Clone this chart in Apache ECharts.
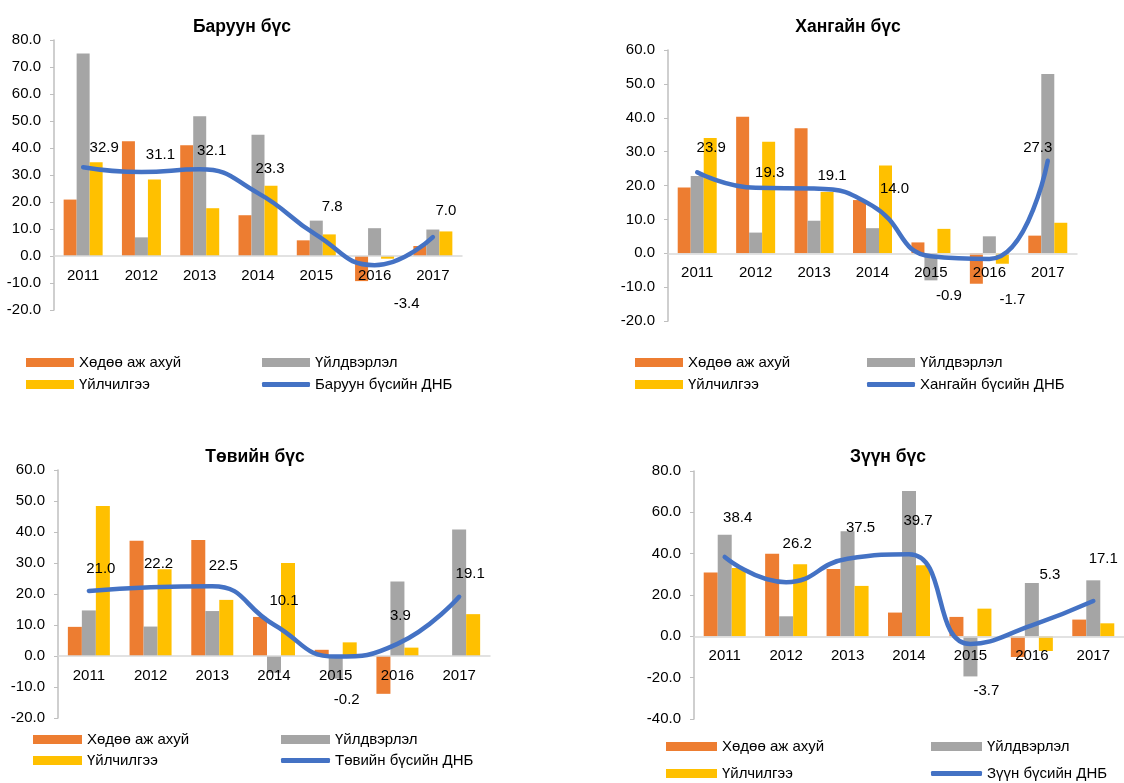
<!DOCTYPE html>
<html>
<head>
<meta charset="utf-8">
<script src="https://cdn.jsdelivr.net/npm/echarts@6/dist/echarts.min.js"></script>
<style>
html,body{margin:0;padding:0;background:#fff;}
#chart{width:1124px;height:783px;}
</style>
</head>
<body>
<div id="chart"></div>
<script>
// ---- Data ----
const years = ['2011', '2012', '2013', '2014', '2015', '2016', '2017'];
const seriesNames = ['Хөдөө аж ахуй', 'Үйлдвэрлэл', 'Үйлчилгээ'];

const westTitle = 'Баруун бүс';
const westGdpName = 'Баруун бүсийн ДНБ';
const westAgri = [20.9, 42.5, 41.0, 15.1, 5.8, -9.3, 3.7];
const westInd = [75.0, 6.9, 51.8, 44.9, 13.1, 10.3, 9.8];
const westServ = [34.7, 28.3, 17.7, 26.0, 8.0, -1.0, 9.1];
const westGdp = [32.9, 31.1, 32.1, 23.3, 7.8, -3.4, 7.0];

const khangaiTitle = 'Хангайн бүс';
const khangaiGdpName = 'Хангайн бүсийн ДНБ';
const khangaiAgri = [19.4, 40.3, 36.9, 15.7, 3.2, -9.0, 5.2];
const khangaiInd = [22.8, 6.1, 9.6, 7.4, -8.0, 5.0, 52.9];
const khangaiServ = [34.0, 32.9, 18.1, 25.9, 7.2, -3.1, 9.0];
const khangaiGdp = [23.9, 19.3, 19.1, 14.0, -0.9, -1.7, 27.3];

const centralTitle = 'Төвийн бүс';
const centralGdpName = 'Төвийн бүсийн ДНБ';
const centralAgri = [9.4, 37.2, 37.4, 12.6, 2.0, -12.2, 0];
const centralInd = [14.7, 9.5, 14.5, -5.4, -7.3, 24.0, 40.8];
const centralServ = [48.4, 28.0, 18.1, 30.0, 4.4, 2.7, 13.5];
const centralGdp = [21.0, 22.2, 22.5, 10.1, -0.2, 3.9, 19.1];

const eastTitle = 'Зүүн бүс';
const eastGdpName = 'Зүүн бүсийн ДНБ';
const eastAgri = [30.9, 39.9, 32.6, 11.5, 9.4, -10.0, 8.1];
const eastInd = [49.1, 9.7, 50.9, 70.3, -19.4, 25.8, 27.1];
const eastServ = [33.1, 34.9, 24.4, 34.4, 13.4, -7.1, 6.3];
const eastGdp = [38.4, 26.2, 37.5, 39.7, -3.7, 5.3, 17.1];

// ---- Layout / style (not data) ----
const colors = ['#ED7D31', '#A5A5A5', '#FFC000', '#4472C4'];
const FONT = 'Liberation Sans, Arial, sans-serif';

const panels = [
  { title: westTitle, gdpName: westGdpName, bars: [westAgri, westInd, westServ], gdp: westGdp,
    grid: { left: 54, top: 40, width: 408, height: 270 }, yMin: -20, yMax: 80, yInt: 10, barW: 13,
    titlePos: { x: 237, y: 22 },
    legend: { c1: 26, c2: 262, r1: 364, r2: 386, w: 48 },
    offsets: [[21,-19],[19,-17],[12,-18],[12,-24],[16,-28],[32,39],[13,-26]] },
  { title: khangaiTitle, gdpName: khangaiGdpName, bars: [khangaiAgri, khangaiInd, khangaiServ], gdp: khangaiGdp,
    grid: { left: 668, top: 50, width: 409, height: 271 }, yMin: -20, yMax: 60, yInt: 10, barW: 13,
    titlePos: { x: 843, y: 22 },
    legend: { c1: 635, c2: 867, r1: 364, r2: 386, w: 48 },
    offsets: [[14,-24],[14,-15],[18,-13],[22,-17],[18,40],[23,41],[-10,-13]] },
  { title: centralTitle, gdpName: centralGdpName, bars: [centralAgri, centralInd, centralServ], gdp: centralGdp,
    grid: { left: 58, top: 470, width: 432, height: 248 }, yMin: -20, yMax: 60, yInt: 10, barW: 14,
    titlePos: { x: 250, y: 452 },
    legend: { c1: 33, c2: 281, r1: 741, r2: 762, w: 49 },
    offsets: [[12,-22],[8,-23],[11,-20],[10,-24],[11,43],[3,-28],[11,-23]] },
  { title: eastTitle, gdpName: eastGdpName, bars: [eastAgri, eastInd, eastServ], gdp: eastGdp,
    grid: { left: 694, top: 471, width: 434, height: 248 }, yMin: -40, yMax: 80, yInt: 20, barW: 14,
    titlePos: { x: 883, y: 452 },
    legend: { c1: 666, c2: 931, r1: 748, r2: 775, w: 51 },
    offsets: [[13,-39],[11,-38],[13,-31],[9,-33],[16,47],[18,-51],[10,-42]] }
];

const option = {
  animation: false,
  backgroundColor: '#fff',
  textStyle: { fontFamily: FONT },
  title: [], grid: [], xAxis: [], yAxis: [], legend: [], series: []
};

panels.forEach((p, i) => {
  option.title.push({
    text: p.title, left: p.titlePos.x, top: p.titlePos.y, textAlign: 'center', textVerticalAlign: 'middle',
    textStyle: { fontFamily: FONT, fontSize: 17.5, fontWeight: 'bold', color: '#000' }
  });
  option.grid.push(Object.assign({ containLabel: false }, p.grid));
  // place the category axis (line + labels) on the zero value
  const zeroShift = p.grid.height * (0 - p.yMin) / (p.yMax - p.yMin);
  option.xAxis.push({
    type: 'category', gridIndex: i, data: years, position: 'bottom', offset: -zeroShift, z: 10,
    axisLine: { onZero: false, lineStyle: { color: '#d9d9d9', width: 1.5 } },
    axisTick: { show: false },
    axisLabel: { color: '#000', fontSize: 15, fontFamily: FONT, margin: 12 },
    splitLine: { show: false }
  });
  option.yAxis.push({
    type: 'value', gridIndex: i, min: p.yMin, max: p.yMax, interval: p.yInt,
    axisLine: { show: true, lineStyle: { color: '#bfbfbf', width: 1.5 } },
    axisTick: { show: true, length: 4, lineStyle: { color: '#bfbfbf' } },
    axisLabel: { color: '#000', fontSize: 15, fontFamily: FONT, margin: 13,
      formatter: v => v.toFixed(1) },
    splitLine: { show: false }
  });
  p.bars.forEach((arr, k) => {
    option.series.push({
      type: 'bar', name: seriesNames[k], xAxisIndex: i, yAxisIndex: i, data: arr,
      barWidth: p.barW, barGap: '0%', itemStyle: { color: colors[k] }, z: 2
    });
  });
  option.series.push({
    type: 'line', name: p.gdpName, xAxisIndex: i, yAxisIndex: i, smooth: 0.5,
    symbol: 'circle', symbolSize: 1, itemStyle: { color: colors[3] },
    lineStyle: { color: colors[3], width: 4.5, cap: 'round' },
    data: p.gdp.map((v, j) => ({
      value: v,
      label: { show: true, position: 'inside', offset: p.offsets[j],
        formatter: d => d.value.toFixed(1), color: '#000', fontSize: 15, fontFamily: FONT }
    })),
    z: 12
  });
  const L = p.legend;
  const mk = (name, left, rowY, icon, h) => ({
    data: [{ name: name, icon: icon }], left: left, top: rowY - 9, height: 18, padding: 0,
    itemWidth: L.w, itemHeight: h, itemGap: 5,
    textStyle: { fontFamily: FONT, fontSize: 15, color: '#000', padding: [0, 0, 0, 0] },
    selectedMode: false
  });
  option.legend.push(mk(seriesNames[0], L.c1, L.r1, 'rect', 9));
  option.legend.push(mk(seriesNames[1], L.c2, L.r1, 'rect', 9));
  option.legend.push(mk(seriesNames[2], L.c1, L.r2, 'rect', 9));
  option.legend.push(mk(p.gdpName, L.c2, L.r2, 'roundRect', 5));
});

const chart = echarts.init(document.getElementById('chart'), null, { renderer: 'canvas' });
chart.setOption(option);
</script>
</body>
</html>
